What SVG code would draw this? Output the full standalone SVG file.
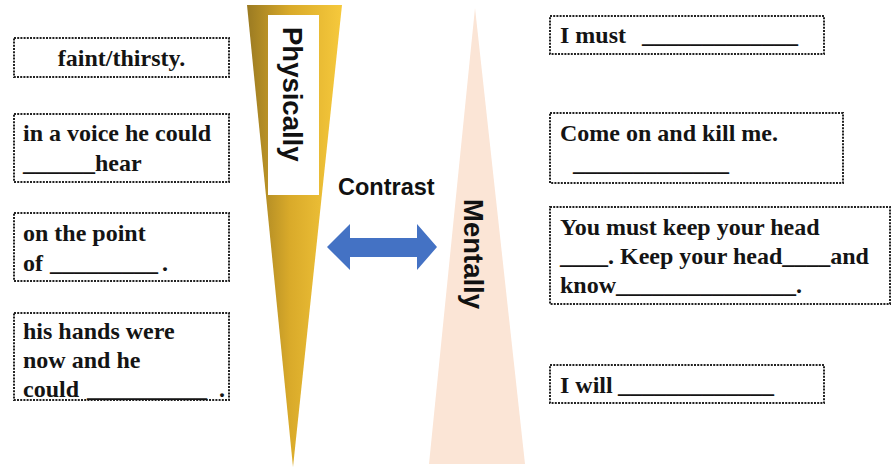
<svg xmlns="http://www.w3.org/2000/svg" width="894" height="471" viewBox="0 0 894 471">
<defs>
<linearGradient id="gold" x1="0" y1="0" x2="1" y2="0">
<stop offset="0" stop-color="#9a7a22"/>
<stop offset="0.45" stop-color="#d9aa2a"/>
<stop offset="1" stop-color="#f6c93c"/>
</linearGradient>
<style>
.box{fill:#fff;stroke:#222;stroke-width:2;stroke-dasharray:2 1.2}
.t{font-family:"Liberation Serif","Times New Roman",serif;font-weight:bold;font-size:24px;fill:#141414}
.s{font-family:"Liberation Sans",Arial,sans-serif;font-weight:bold;fill:#111}
</style>
</defs>
<rect width="894" height="471" fill="#fff"/>
<g id="physically">
<polygon points="247,5 342,5 293,467" fill="url(#gold)"/>
<rect x="268" y="15" width="51" height="180" fill="#fff"/>
<text class="s" font-size="27.5" transform="translate(283,27) rotate(90)">Physically</text>
</g>
<g id="mentally">
<polygon points="475,8 525,464 429,464" fill="#fbe5d6"/>
<text class="s" font-size="27.5" transform="translate(464,199) rotate(90)">Mentally</text>
</g>
<g id="contrast">
<text class="s" font-size="23.5" x="338" y="195">Contrast</text>
</g>
<g id="connectors">
<polygon points="327,247 350,224 350,238 417,238 417,224 437,247 417,270 417,257 350,257 350,270" fill="#4472c4"/>
</g>
<g id="box-l1">
<rect class="box" x="14" y="38" width="215" height="39"/>
<text class="t" x="121.5" y="66" text-anchor="middle">faint/thirsty.</text>
</g>
<g id="box-l2">
<rect class="box" x="14" y="114" width="215" height="68"/>
<text class="t" x="23" y="141">in a voice he could</text>
<text class="t" x="23" y="171">______hear</text>
</g>
<g id="box-l3">
<rect class="box" x="14" y="213" width="215" height="68"/>
<text class="t" x="23" y="241">on the point</text>
<text class="t" x="23" y="271">of <tspan x="50">_________</tspan><tspan x="162">.</tspan></text>
</g>
<g id="box-l4">
<rect class="box" x="14" y="313" width="215" height="87"/>
<text class="t" x="23" y="339">his hands were</text>
<text class="t" x="23" y="368">now and he</text>
<text class="t" x="23" y="397">could <tspan x="87">__________</tspan><tspan x="219">.</tspan></text>
</g>
<g id="box-r1">
<rect class="box" x="550" y="16" width="274" height="38"/>
<text class="t" x="560" y="43">I must <tspan x="642">_____________</tspan></text>
</g>
<g id="box-r2">
<rect class="box" x="550" y="113" width="293" height="70"/>
<text class="t" x="560" y="141">Come on and kill me.</text>
<text class="t" x="573" y="171">_____________</text>
</g>
<g id="box-r3">
<rect class="box" x="550" y="207" width="340" height="97"/>
<text class="t" x="560" y="235">You must keep your head</text>
<text class="t" x="560" y="264">____. Keep your head____and</text>
<text class="t" x="560" y="293">know_______________.</text>
</g>
<g id="box-r4">
<rect class="box" x="550" y="365" width="274" height="38"/>
<text class="t" x="560" y="393">I will <tspan x="618">_____________</tspan></text>
</g>
</svg>
